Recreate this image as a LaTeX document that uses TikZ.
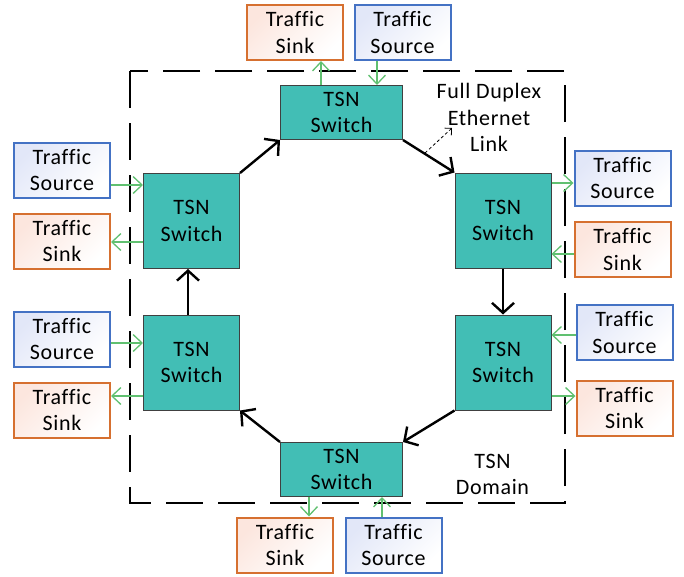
\documentclass[tikz,border=0pt]{standalone}
\usepackage{fontspec}
\setmainfont{Carlito}[Ligatures=NoCommon, LetterSpace=3]
\usetikzlibrary{arrows.meta,calc}
\definecolor{teal1}{RGB}{66,190,181}
\definecolor{srcblue}{RGB}{68,114,196}
\definecolor{sinkor}{RGB}{214,112,48}
\definecolor{gline}{RGB}{96,192,112}
\definecolor{srcfill}{RGB}{226,231,248}
\definecolor{sinkfill}{RGB}{252,230,222}
\begin{document}
\begin{tikzpicture}[x=1pt,y=-1pt,
  txt/.style={font=\fontsize{22}{26.8}\selectfont, align=center, inner sep=0pt},
  sw/.style={txt, draw=black!75, line width=1pt, fill=teal1},
  swh/.style={sw, minimum width=122pt, minimum height=54pt},
  swv/.style={sw, minimum width=96pt, minimum height=95pt},
  endbox/.style={txt, line width=2pt, minimum width=96pt, minimum height=55pt},
  src/.style={endbox, draw=srcblue, top color=srcfill, bottom color=white, shading angle=45},
  snk/.style={endbox, draw=sinkor, top color=sinkfill, bottom color=white, shading angle=45},
  link/.style={line width=2.4pt, -{Straight Barb[length=10pt,width=22pt,line width=2.4pt]}},
  flow/.style={gline, line width=1.3pt, -{Straight Barb[length=9pt,width=17pt,line width=1.3pt]}},
  domainbox/.style={line width=2pt, dash pattern=on 37pt off 15pt},
]
\useasboundingbox (0,0) rectangle (684,576);
\draw[domainbox] (130,71) rectangle (565,503);

% switches
\node[swh] (swT) at (341.5,112.5) {TSN\\Switch};
\node[swh] (swB) at (341.5,469.5) {TSN\\Switch};
\node[swv] (swLU) at (191.5,221) {TSN\\Switch};
\node[swv] (swLL) at (191.5,362.5) {TSN\\Switch};
\node[swv] (swRU) at (503,220.5) {TSN\\Switch};
\node[swv] (swRL) at (503,362.5) {TSN\\Switch};

% end stations
\node[snk] (kT) at (295,32.5) {Traffic\\Sink};
\node[src] (sT) at (402.5,32.5) {Traffic\\Source};
\node[src] (sLU) at (62,170) {Traffic\\Source};
\node[snk] (kLU) at (62,241) {Traffic\\Sink};
\node[src] (sLL) at (62,339) {Traffic\\Source};
\node[snk] (kLL) at (62,410) {Traffic\\Sink};
\node[src] (sRU) at (622.5,178) {Traffic\\Source};
\node[snk] (kRU) at (622.5,249.5) {Traffic\\Sink};
\node[src] (sRL) at (624.5,332.5) {Traffic\\Source};
\node[snk] (kRL) at (624.5,408) {Traffic\\Sink};
\node[snk] (kB) at (285,545) {Traffic\\Sink};
\node[src] (sB) at (393.5,545) {Traffic\\Source};

% labels
\node[txt] (lbl) at (489,117.5) {Full Duplex\\Ethernet\\Link};
\node[txt] (dom) at (492.5,474.5) {TSN\\Domain};

% ring links
\draw[link] (swLU.north east) -- (swT.south west);
\draw[link] (swT.south east) -- (swRU.north west);
\draw[link] (swRU.south) -- (swRL.north);
\draw[link] (swRL.south west) -- (swB.north east);
\draw[link] (swB.north west) -- (swLL.south east);
\draw[link] ($(swLL.north)+(-3.5,0)$) -- ($(swLU.south)+(-3.5,0)$);

% dashed pointer
\coordinate (d1) at (425,153);
\coordinate (d2) at (452,128);
\draw[line width=0.8pt, dash pattern=on 3pt off 2.5pt, -{Straight Barb[length=5pt,width=10pt,line width=0.8pt]}] (d1) -- (d2);

% flows top
\coordinate (t1) at ($(swT.north)+(-20.5,0)$);
\coordinate (t2) at ($(swT.north)+(35.5,0)$);
\draw[flow] (t1) -- (t1 |- kT.south);
\draw[flow] (t2 |- sT.south) -- (t2);
% flows bottom
\coordinate (b1) at ($(swB.south)+(-32.5,0)$);
\coordinate (b2) at ($(swB.south)+(40.5,0)$);
\draw[flow] (b1) -- (b1 |- kB.north);
\draw[flow] (b2 |- sB.north) -- (b2);
% flows left upper
\coordinate (lu1) at ($(swLU.west)+(0,-36)$);
\coordinate (lu2) at ($(swLU.west)+(0,21)$);
\draw[flow] (sLU.east |- lu1) -- (lu1);
\draw[flow] (lu2) -- (kLU.east |- lu2);
% flows left lower
\coordinate (ll1) at ($(swLL.west)+(0,-19.5)$);
\coordinate (ll2) at ($(swLL.west)+(0,33.5)$);
\draw[flow] (sLL.east |- ll1) -- (ll1);
\draw[flow] (ll2) -- (kLL.east |- ll2);
% flows right upper
\coordinate (ru1) at ($(swRU.east)+(0,-37.5)$);
\coordinate (ru2) at ($(swRU.east)+(0,33.5)$);
\draw[flow] (ru1) -- (sRU.west |- ru1);
\draw[flow] (kRU.west |- ru2) -- (ru2);
% flows right lower
\coordinate (rl1) at ($(swRL.east)+(0,-27.5)$);
\coordinate (rl2) at ($(swRL.east)+(0,33.5)$);
\draw[flow] (sRL.west |- rl1) -- (rl1);
\draw[flow] (rl2) -- (kRL.west |- rl2);
\end{tikzpicture}
\end{document}
